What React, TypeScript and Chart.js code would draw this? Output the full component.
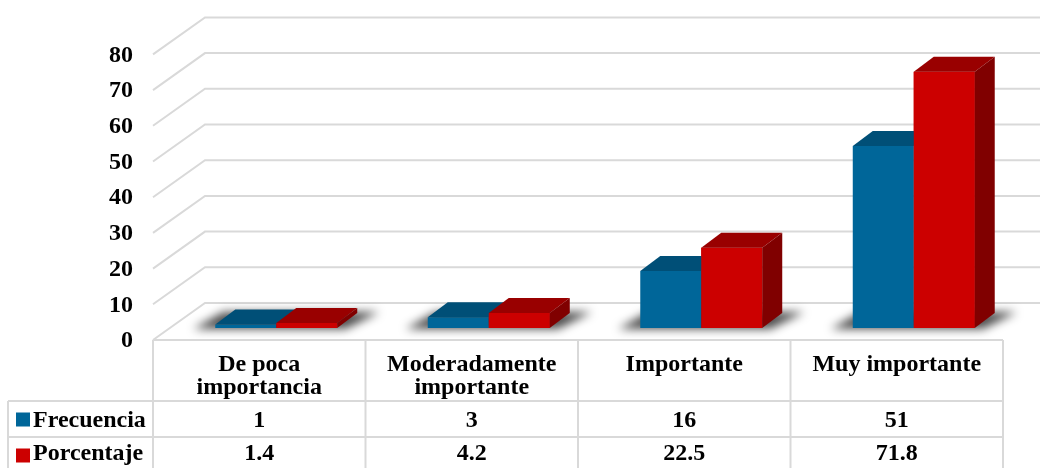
import React, { useEffect, useRef } from "react";
import { Chart, registerables } from "chart.js";

Chart.register(...registerables);

// ---------- data ----------
const categories: string[][] = [
  ["De poca", "importancia"],
  ["Moderadamente", "importante"],
  ["Importante"],
  ["Muy importante"],
];
const seriesNames = ["Frecuencia", "Porcentaje"];
const frecuencia = [1, 3, 16, 51];
const porcentaje = [1.4, 4.2, 22.5, 71.8];
const frecuenciaLabels = ["1", "3", "16", "51"];
const porcentajeLabels = ["1.4", "4.2", "22.5", "71.8"];
const yTicks = [0, 10, 20, 30, 40, 50, 60, 70, 80];

// ---------- styles ----------
const FONT = "bold 24px 'Liberation Serif', 'Times New Roman', serif";
const GRID = "#d9d9d9";
const TEXT = "#000000";
const BLUE = { front: "#006699", top: "#004f77", side: "#003f5f" };
const RED = { front: "#cc0000", top: "#990000", side: "#800000" };

// 3D offsets (relative to bar plane)
const FRONT_DX = -17;
const FRONT_DY = 12;
const BACK_DX = 35;
const BACK_DY = -25;
const BAR_DX = 20;
const BAR_DY = -15;

function poly(ctx: CanvasRenderingContext2D, pts: number[][], fill: string) {
  ctx.beginPath();
  ctx.moveTo(pts[0][0], pts[0][1]);
  for (let i = 1; i < pts.length; i++) ctx.lineTo(pts[i][0], pts[i][1]);
  ctx.closePath();
  ctx.fillStyle = fill;
  ctx.fill();
}

const threeD = {
  id: "threeD",
  beforeDatasetsDraw(chart: any) {
    const { ctx } = chart;
    const x = chart.scales.x;
    const y = chart.scales.y;
    ctx.save();
    // back wall + floor/left diagonals
    ctx.strokeStyle = GRID;
    ctx.lineWidth = 2;
    for (const t of yTicks) {
      const py = y.getPixelForValue(t);
      ctx.beginPath();
      ctx.moveTo(x.left + FRONT_DX, py + FRONT_DY);
      ctx.lineTo(x.left + BACK_DX, py + BACK_DY);
      ctx.lineTo(chart.width + 30, py + BACK_DY);
      ctx.stroke();
    }
    // shadows under bar groups
    const m0 = chart.getDatasetMeta(0);
    const m1 = chart.getDatasetMeta(1);
    ctx.filter = "blur(5px)";
    for (let i = 0; i < m0.data.length; i++) {
      const a = m0.data[i].getProps(["x", "width", "base"], true);
      const b = m1.data[i].getProps(["x", "width", "base"], true);
      const x0 = a.x - a.width / 2;
      const x2 = b.x + b.width / 2;
      const base = a.base;
      poly(
        ctx,
        [
          [x0 - 22, base + 1],
          [x2 + 8, base + 1],
          [x2 + BAR_DX + 22, base + BAR_DY - 1],
          [x0 + 8, base + BAR_DY - 1],
        ],
        "rgba(0,0,0,0.7)"
      );
    }
    ctx.filter = "none";
    ctx.restore();
  },
  afterDatasetsDraw(chart: any) {
    const { ctx } = chart;
    const m0 = chart.getDatasetMeta(0);
    const m1 = chart.getDatasetMeta(1);
    ctx.save();
    for (let i = 0; i < m0.data.length; i++) {
      const a = m0.data[i].getProps(["x", "y", "width", "base"], true);
      const b = m1.data[i].getProps(["x", "y", "width", "base"], true);
      // blue top
      let x0 = a.x - a.width / 2;
      let x1 = a.x + a.width / 2;
      poly(ctx, [[x0, a.y], [x0 + BAR_DX, a.y + BAR_DY], [x1 + BAR_DX, a.y + BAR_DY], [x1, a.y]], BLUE.top);
      poly(ctx, [[x1, a.y], [x1 + BAR_DX, a.y + BAR_DY], [x1 + BAR_DX, a.base + BAR_DY], [x1, a.base]], BLUE.side);
      // red: front again, then top + side
      x0 = b.x - b.width / 2;
      x1 = b.x + b.width / 2;
      poly(ctx, [[x0, b.y], [x1, b.y], [x1, b.base], [x0, b.base]], RED.front);
      poly(ctx, [[x0, b.y], [x0 + BAR_DX, b.y + BAR_DY], [x1 + BAR_DX, b.y + BAR_DY], [x1, b.y]], RED.top);
      poly(ctx, [[x1, b.y], [x1 + BAR_DX, b.y + BAR_DY], [x1 + BAR_DX, b.base + BAR_DY], [x1, b.base]], RED.side);
    }
    ctx.restore();
  },
  afterDraw(chart: any) {
    const { ctx } = chart;
    const x = chart.scales.x;
    const y = chart.scales.y;
    ctx.save();
    ctx.font = FONT;
    ctx.fillStyle = TEXT;

    const frontL = x.left + FRONT_DX;
    const colW = x.width / categories.length;
    const top = y.getPixelForValue(0) + FRONT_DY;
    const row1 = top + 61;
    const row2 = row1 + 36;
    const row3 = row2 + 36;
    const legendL = 8;

    // y tick labels (front plane)
    ctx.textAlign = "right";
    ctx.textBaseline = "middle";
    for (const t of yTicks) {
      const py = y.getPixelForValue(t) + FRONT_DY + 1;
      ctx.fillText(String(t), frontL - 20, py);
    }

    // table grid
    ctx.strokeStyle = GRID;
    ctx.lineWidth = 2;
    const right = frontL + colW * categories.length;
    const line = (ax: number, ay: number, bx: number, by: number) => {
      ctx.beginPath();
      ctx.moveTo(ax, ay);
      ctx.lineTo(bx, by);
      ctx.stroke();
    };
    line(frontL, top, right, top);
    line(legendL, row1, right, row1);
    line(legendL, row2, right, row2);
    line(legendL, row3, right, row3);
    line(legendL, row1, legendL, row3);
    for (let i = 0; i <= categories.length; i++) {
      const cx = frontL + i * colW;
      line(cx, top, cx, row3);
    }

    // header labels
    ctx.textAlign = "center";
    ctx.textBaseline = "alphabetic";
    ctx.fillStyle = TEXT;
    categories.forEach((lines, i) => {
      const cx = frontL + (i + 0.5) * colW;
      lines.forEach((s, j) => ctx.fillText(s, cx, top + 31 + j * 22.5));
    });

    // values
    const rows = [frecuenciaLabels, porcentajeLabels];
    const baselines = [row1 + 26, row2 + 23];
    rows.forEach((vals, r) => {
      vals.forEach((s, i) => {
        const cx = frontL + (i + 0.5) * colW;
        ctx.fillText(s, cx, baselines[r]);
      });
    });

    // legend keys
    const colors = [BLUE.front, RED.front];
    ctx.textAlign = "left";
    seriesNames.forEach((name, r) => {
      ctx.fillStyle = colors[r];
      ctx.fillRect(16, (r === 0 ? row1 : row2) + 11.5, 14, 14);
      ctx.fillStyle = TEXT;
      ctx.fillText(name, 33, baselines[r]);
    });
    ctx.restore();
  },
};

export default function App() {
  const ref = useRef<HTMLCanvasElement | null>(null);
  useEffect(() => {
    if (!ref.current) return;
    const chart = new Chart(ref.current, {
      type: "bar",
      data: {
        labels: categories.map((c) => c.join(" ")),
        datasets: [
          {
            label: seriesNames[0],
            data: frecuencia,
            backgroundColor: BLUE.front,
            borderWidth: 0,
            categoryPercentage: 0.574,
            barPercentage: 1,
          },
          {
            label: seriesNames[1],
            data: porcentaje,
            backgroundColor: RED.front,
            borderWidth: 0,
            categoryPercentage: 0.574,
            barPercentage: 1,
          },
        ],
      },
      options: {
        responsive: false,
        animation: false,
        layout: { padding: { left: 170, right: 20, top: 42.4, bottom: 140 } },
        plugins: { legend: { display: false }, tooltip: { enabled: false }, title: { display: false } },
        scales: {
          x: { display: false, offset: true },
          y: { display: false, min: 0, max: 80 },
        },
      },
      plugins: [threeD],
    });
    return () => chart.destroy();
  }, []);
  return (
    <div style={{ position: "fixed", left: 0, top: 0, width: 1040, height: 468, background: "#fff" }}>
      <canvas ref={ref} width={1040} height={468} />
    </div>
  );
}
